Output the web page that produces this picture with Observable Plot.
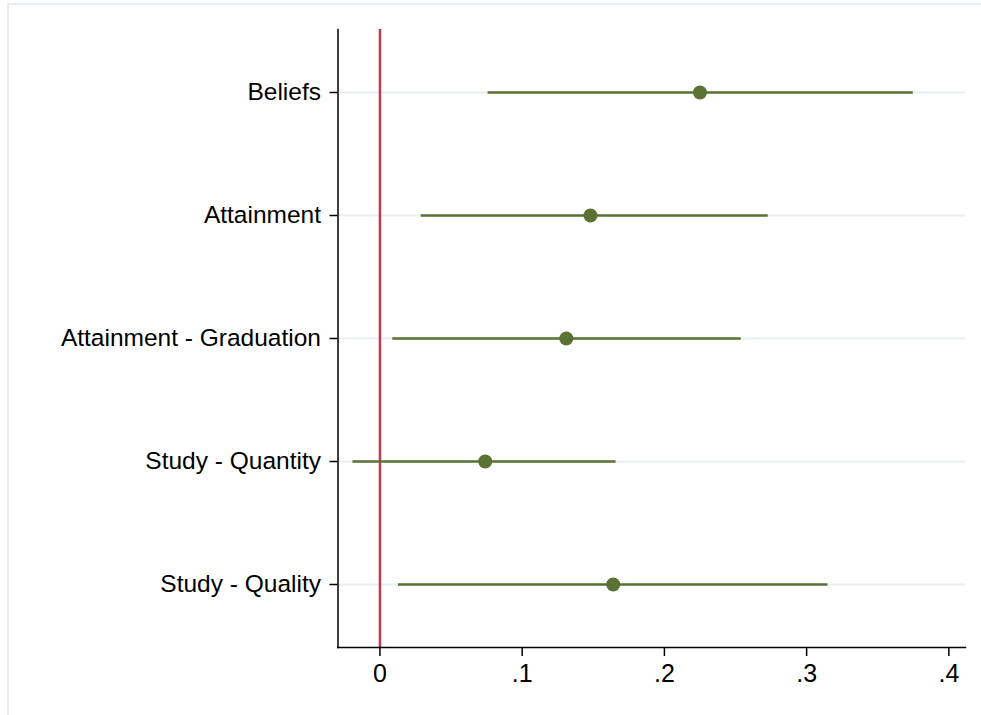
<!DOCTYPE html>
<html>
<head>
<meta charset="utf-8">
<script src="https://cdn.jsdelivr.net/npm/d3@7"></script>
<script src="https://cdn.jsdelivr.net/npm/@observablehq/plot@0.6"></script>
<style>
  html, body { margin: 0; padding: 0; background: #fff; }
  #wrap { position: relative; width: 981px; height: 715px; }
  #edge { position: absolute; left: 7px; top: 3px; right: 0; bottom: 0;
          border-top: 2px solid #e8edf1; border-left: 2px solid #e8edf1; pointer-events: none; }
  #chart svg { display: block; }
</style>
</head>
<body>
<div id="wrap"><div id="chart"></div><div id="edge"></div></div>
<script>
// Outcomes, top to bottom
const outcomes = ["Beliefs", "Attainment", "Attainment - Graduation", "Study - Quantity", "Study - Quality"];
// Point estimates and 95% confidence bounds
const estimates = [0.225, 0.148, 0.131, 0.074, 0.164];
const lower = [0.076, 0.029, 0.009, -0.019, 0.013];
const upper = [0.375, 0.273, 0.254, 0.166, 0.315];
// Horizontal axis ticks
const xTicks = [0, 0.1, 0.2, 0.3, 0.4];

const rows = outcomes.map((name, i) => ({name, est: estimates[i], lo: lower[i], hi: upper[i]}));

const green = "#5a7233";
const fmt = d => d === 0 ? "0" : String(d).replace(/^0/, "").replace(/^-0/, "-");

const chart = Plot.plot({
  width: 981,
  height: 715,
  marginLeft: 337.5,
  marginRight: 16,
  marginTop: 29,
  marginBottom: 68,
  style: {fontFamily: "'Liberation Sans', Arial, Helvetica, sans-serif", fontSize: "24.5px", color: "#000", background: "transparent"},
  x: {domain: [-0.0295, 0.4117], ticks: xTicks, tickFormat: fmt, label: null},
  y: {domain: outcomes, padding: 0.5, label: null},
  marks: [
    Plot.ruleY(outcomes, {y: d => d, stroke: "#e9eef1", strokeWidth: 2}),
    Plot.ruleX([0], {stroke: "#c23a4e", strokeWidth: 2.5}),
    Plot.ruleY(rows, {y: "name", x1: "lo", x2: "hi", stroke: green, strokeWidth: 2.5}),
    Plot.dot(rows, {x: "est", y: "name", r: 7, fill: green, stroke: "none"}),
    Plot.frame({anchor: "left", stroke: "#000", strokeWidth: 1.5}),
    Plot.frame({anchor: "bottom", stroke: "#000", strokeWidth: 1.5}),
    Plot.axisX({ticks: xTicks, tickFormat: fmt, tickSize: 9, tickPadding: 8, fontSize: 25, stroke: "#000", strokeWidth: 1.5}),
    Plot.axisY({tickSize: 8, tickPadding: 9, fontSize: 24.5, stroke: "#000", strokeWidth: 1.5})
  ]
});

document.getElementById("chart").append(chart);
</script>
</body>
</html>
